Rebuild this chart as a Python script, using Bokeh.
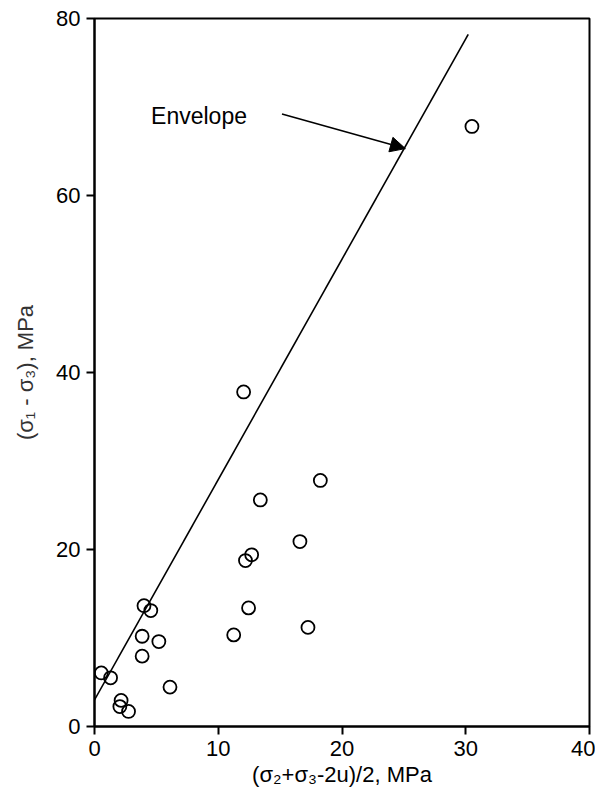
from bokeh.plotting import figure
from bokeh.models import Range1d, Label, Arrow, NormalHead, FixedTicker
from bokeh.embed import file_html
from bokeh.resources import INLINE

# data
x_vals = [0.55, 1.3, 4.0, 4.55, 3.85, 5.2, 3.85, 6.1, 2.15, 2.05, 2.75,
          12.05, 18.25, 13.4, 16.6, 12.7, 12.2, 12.45, 11.25, 17.25, 30.5]
y_vals = [6.05, 5.5, 13.65, 13.1, 10.2, 9.6, 7.95, 4.45, 2.95, 2.25, 1.7,
          37.8, 27.8, 25.6, 20.9, 19.4, 18.75, 13.4, 10.35, 11.2, 67.8]

envelope_x = [0.0, 30.2]
envelope_y = [3.0, 78.2]

x_ticks = [0, 10, 20, 30, 40]
y_ticks = [0, 20, 40, 60, 80]

annot_text = "Envelope"
annot_pos = (4.57, 69.0)
arrow_from = (15.15, 69.2)
arrow_to = (25.12, 65.3)

FONT = "Liberation Sans"

p = figure(width=595, height=790, output_backend="svg", toolbar_location=None,
           x_range=Range1d(0, 40), y_range=Range1d(0, 80),
           min_border_left=94, min_border_right=6, min_border_top=18, min_border_bottom=64)

p.background_fill_color = "white"
p.border_fill_color = "white"
p.outline_line_color = "black"
p.outline_line_width = 2
p.xgrid.visible = False
p.ygrid.visible = False

for ax in (p.xaxis[0], p.yaxis[0]):
    ax.axis_line_color = "black"
    ax.axis_line_width = 2
    ax.major_tick_line_color = "black"
    ax.major_tick_line_width = 2
    ax.major_tick_out = 8
    ax.major_tick_in = 0
    ax.minor_tick_line_color = None
    ax.major_label_text_font = FONT
    ax.major_label_text_font_size = "22px"
    ax.major_label_text_color = "black"
    ax.axis_label_text_font = FONT
    ax.axis_label_text_font_style = "normal"
    ax.axis_label_text_font_size = "22px"

p.xaxis[0].ticker = FixedTicker(ticks=x_ticks)
p.yaxis[0].ticker = FixedTicker(ticks=y_ticks)
p.xaxis[0].major_label_standoff = 6
p.yaxis[0].major_label_standoff = 6
p.xaxis[0].axis_label = "(\u03c3\u2082+\u03c3\u2083-2u)/2, MPa"
p.yaxis[0].axis_label = "(\u03c3\u2081 - \u03c3\u2083), MPa"
p.xaxis[0].axis_label_standoff = 3
p.yaxis[0].axis_label_standoff = 15
p.xaxis[0].axis_label_text_color = "black"
p.yaxis[0].axis_label_text_color = "#333333"

p.line(envelope_x, envelope_y, line_color="black", line_width=1.6)

p.scatter(x_vals, y_vals, marker="circle", size=13, fill_color=None,
          line_color="black", line_width=1.8)

p.add_layout(Label(x=annot_pos[0], y=annot_pos[1], text=annot_text,
                   text_font=FONT, text_font_size="23px", text_color="black",
                   text_baseline="middle", text_align="left"))

p.add_layout(Arrow(x_start=arrow_from[0], y_start=arrow_from[1],
                   x_end=arrow_to[0], y_end=arrow_to[1],
                   line_color="black", line_width=1.6,
                   end=NormalHead(size=15, fill_color="black", line_color="black", line_width=1)))

open("out.html", "w").write(file_html(p, INLINE))
